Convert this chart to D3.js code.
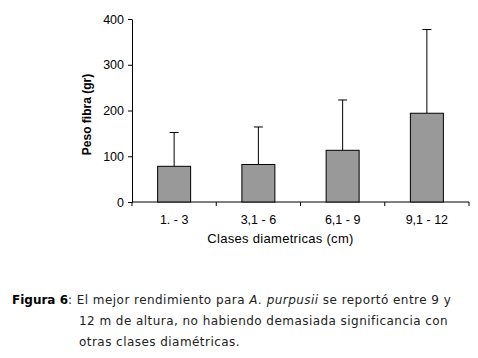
<!DOCTYPE html>
<html><head><meta charset="utf-8">
<script src="https://cdn.jsdelivr.net/npm/d3@7/dist/d3.min.js"></script>
<style>body{margin:0;background:#fff;}svg{display:block;}</style>
</head><body>
<script>
const categories = ["1. - 3", "3,1 - 6", "6,1 - 9", "9,1 - 12"];
const values = [78, 82, 113, 194];
const errorTops = [152, 164, 223, 377];
const yTicks = [0, 100, 200, 300, 400];

const W = 478, H = 358;
const svg = d3.select("body").append("svg").attr("width", W).attr("height", H);
const x0 = 132, x1 = 469, yB = 202, yT = 19;
const x = d3.scaleBand().domain(categories).range([x0, x1]);
const y = d3.scaleLinear().domain([0, 400]).range([yB, yT]);
const font = "Liberation Sans, Arial, sans-serif";

// y axis
const gy = svg.append("g").attr("transform", `translate(${x0},0)`)
  .call(d3.axisLeft(y).tickValues(yTicks).tickSize(4).tickSizeOuter(0).tickPadding(4));
gy.select(".domain").attr("stroke", "#000");
gy.selectAll("line").attr("stroke", "#000");
gy.selectAll("text").attr("font-family", font).attr("font-size", 12.5).attr("fill", "#000");

// x axis
const gx = svg.append("g").attr("transform", `translate(0,${yB})`);
gx.append("line").attr("x1", x0).attr("x2", x1).attr("y1", 0).attr("y2", 0).attr("stroke", "#000");
const bounds = categories.map(c => x(c)).concat([x1]);
gx.selectAll("line.tk").data(bounds).enter().append("line").attr("class", "tk")
  .attr("x1", d => d).attr("x2", d => d).attr("y1", 0).attr("y2", 4).attr("stroke", "#000");
gx.selectAll("text").data(categories).enter().append("text")
  .attr("x", d => x(d) + x.bandwidth() / 2).attr("y", 22)
  .attr("text-anchor", "middle").attr("font-family", font).attr("font-size", 12.5).text(d => d);

const bw = 33;
// error bars
const eb = svg.append("g");
categories.forEach((c, i) => {
  const cx = x(c) + x.bandwidth() / 2;
  eb.append("line").attr("x1", cx).attr("x2", cx).attr("y1", y(values[i])).attr("y2", y(errorTops[i])).attr("stroke", "#000");
  eb.append("line").attr("x1", cx - 4.5).attr("x2", cx + 4.5).attr("y1", y(errorTops[i])).attr("y2", y(errorTops[i])).attr("stroke", "#000");
});
// bars
svg.append("g").selectAll("rect").data(values).enter().append("rect")
  .attr("x", (d, i) => x(categories[i]) + x.bandwidth() / 2 - bw / 2)
  .attr("y", d => y(d)).attr("width", bw).attr("height", d => yB - y(d))
  .attr("fill", "#999999").attr("stroke", "#000").attr("stroke-width", 1);

// titles
svg.append("text").attr("x", (x0 + x1) / 2 - 20).attr("y", 243).attr("text-anchor", "middle")
  .attr("font-family", font).attr("font-size", 13).attr("letter-spacing", 0.3).text("Clases diametricas (cm)");
svg.append("text").attr("transform", `translate(91,${(yB + yT) / 2 + 4}) rotate(-90)`).attr("text-anchor", "middle")
  .attr("font-family", font).attr("font-size", 12).attr("font-weight", "bold").text("Peso fibra (gr)");

// caption
const cf = "DejaVu Sans, Verdana, sans-serif";
const cap = svg.append("g").attr("font-family", cf).attr("font-size", 12).attr("letter-spacing", 0.45).attr("fill", "#222");
const t1 = cap.append("text").attr("x", 12).attr("y", 304);
t1.append("tspan").attr("font-weight", "bold").attr("letter-spacing", 0).attr("fill", "#000").text("Figura 6");
t1.append("tspan").text(":  El mejor rendimiento para ");
t1.append("tspan").attr("font-style", "italic").text("A. purpusii");
t1.append("tspan").text(" se reportó entre 9 y");
cap.append("text").attr("x", 79).attr("y", 325).text("12 m de altura, no habiendo demasiada significancia con");
cap.append("text").attr("x", 79).attr("y", 346).text("otras clases diamétricas.");
</script>
</body></html>
